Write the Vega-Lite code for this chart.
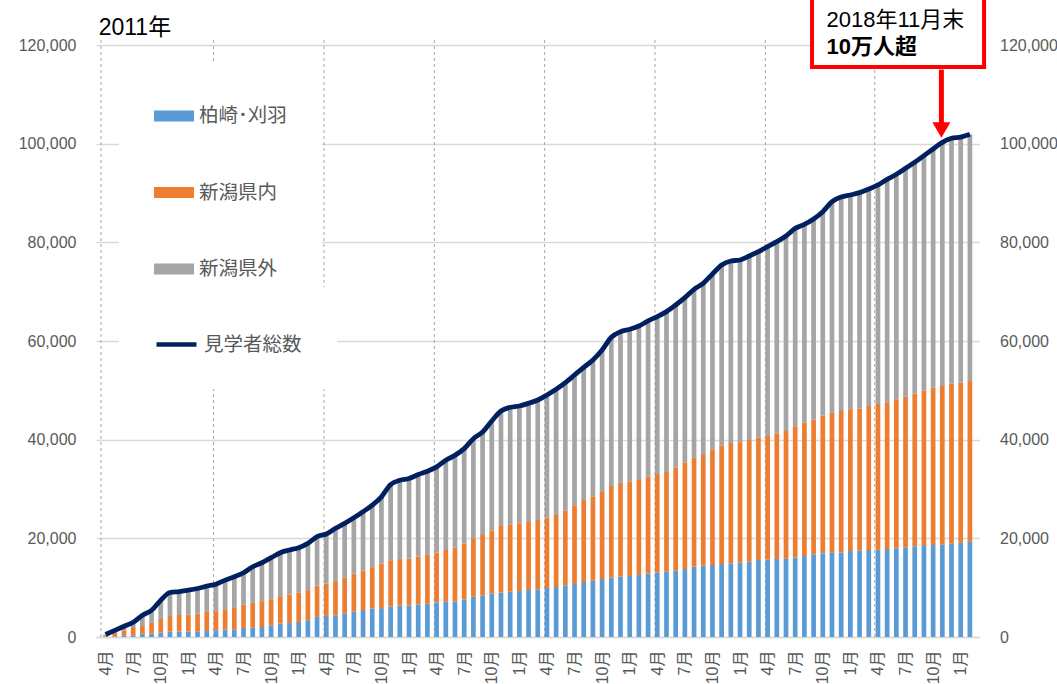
{
  "$schema": "https://vega.github.io/schema/vega-lite/v6.json",
  "width": 883.5,
  "height": 592,
  "autosize": {"type": "none"},
  "padding": {"left": 96, "top": 45, "right": 77.5, "bottom": 47},
  "background": "white",
  "config": {
    "view": {"stroke": null},
    "font": "Liberation Sans, 'Noto Sans CJK JP'",
    "axisX": {"labelFontSize": 16, "labelColor": "#595959", "labelOverlap": false, "labelFlush": false, "labelPadding": 13, "ticks": false, "domainColor": "#d9d9d9", "domainWidth": 1.5, "grid": false, "labelAngle": -90, "labelBound": false},
    "axisY": {"labelFontSize": 16, "labelColor": "#595959", "ticks": false, "domain": false, "labelPadding": 20}
  },
  "datasets": {
    "monthly": [
      {"m": "2011-04", "i": 0, "柏崎･刈羽": 100, "新潟県内": 200, "新潟県外": 200, "見学者総数": 500},
      {"m": "2011-05", "i": 1, "柏崎･刈羽": 150, "新潟県内": 660, "新潟県外": 540, "見学者総数": 1350},
      {"m": "2011-06", "i": 2, "柏崎･刈羽": 340, "新潟県内": 1020, "新潟県外": 810, "見学者総数": 2170},
      {"m": "2011-07", "i": 3, "柏崎･刈羽": 340, "新潟県内": 1490, "新潟県外": 1150, "見学者総数": 2980},
      {"m": "2011-08", "i": 4, "柏崎･刈羽": 680, "新潟県内": 1560, "新潟県外": 2170, "見学者総数": 4410},
      {"m": "2011-09", "i": 5, "柏崎･刈羽": 680, "新潟県内": 2170, "新潟県外": 2570, "見学者総数": 5420},
      {"m": "2011-10", "i": 6, "柏崎･刈羽": 880, "新潟県内": 2780, "新潟県外": 3800, "見学者総数": 7460},
      {"m": "2011-11", "i": 7, "柏崎･刈羽": 1090, "新潟県内": 3180, "新潟県外": 4750, "見学者総数": 9020},
      {"m": "2011-12", "i": 8, "柏崎･刈羽": 1090, "新潟県内": 3370, "新潟県外": 4760, "見学者総数": 9220},
      {"m": "2012-01", "i": 9, "柏崎･刈羽": 1090, "新潟県内": 3450, "新潟県外": 4950, "見学者総数": 9490},
      {"m": "2012-02", "i": 10, "柏崎･刈羽": 1150, "新潟県内": 3600, "新潟県外": 5080, "見学者総数": 9830},
      {"m": "2012-03", "i": 11, "柏崎･刈羽": 1220, "新潟県内": 3870, "新潟県外": 5220, "見学者総数": 10310},
      {"m": "2012-04", "i": 12, "柏崎･刈羽": 1360, "新潟県内": 3880, "新潟県外": 5470, "見学者総数": 10710},
      {"m": "2012-05", "i": 13, "柏崎･刈羽": 1490, "新潟県内": 4140, "新潟県外": 5900, "見学者総数": 11530},
      {"m": "2012-06", "i": 14, "柏崎･刈羽": 1560, "新潟県内": 4340, "新潟県外": 6300, "見学者総数": 12200},
      {"m": "2012-07", "i": 15, "柏崎･刈羽": 1830, "新潟県内": 4750, "新潟県外": 6440, "見学者総数": 13020},
      {"m": "2012-08", "i": 16, "柏崎･刈羽": 1970, "新潟県内": 4950, "新潟県外": 7320, "見学者総数": 14240},
      {"m": "2012-09", "i": 17, "柏崎･刈羽": 2030, "新潟県内": 5230, "新潟県外": 7790, "見学者総数": 15050},
      {"m": "2012-10", "i": 18, "柏崎･刈羽": 2370, "新潟県内": 5290, "新潟県外": 8410, "見学者総数": 16070},
      {"m": "2012-11", "i": 19, "柏崎･刈羽": 2710, "新潟県内": 5560, "新潟県外": 8820, "見学者総数": 17090},
      {"m": "2012-12", "i": 20, "柏崎･刈羽": 2850, "新潟県内": 5760, "新潟県外": 9020, "見学者総数": 17630},
      {"m": "2013-01", "i": 21, "柏崎･刈羽": 3050, "新潟県内": 5900, "新潟県外": 9150, "見学者総数": 18100},
      {"m": "2013-02", "i": 22, "柏崎･刈羽": 3390, "新潟県内": 6100, "新潟県外": 9490, "見学者総数": 18980},
      {"m": "2013-03", "i": 23, "柏崎･刈羽": 4070, "新潟県内": 6370, "新潟県外": 9900, "見学者総数": 20340},
      {"m": "2013-04", "i": 24, "柏崎･刈羽": 4270, "新潟県内": 6580, "新潟県外": 10030, "見学者総数": 20880},
      {"m": "2013-05", "i": 25, "柏崎･刈羽": 4410, "新潟県内": 6910, "新潟県外": 10720, "見学者総数": 22040},
      {"m": "2013-06", "i": 26, "柏崎･刈羽": 4710, "新潟県内": 7340, "新潟県外": 10980, "見学者総数": 23030},
      {"m": "2013-07", "i": 27, "柏崎･刈羽": 5120, "新潟県内": 7740, "新潟県外": 11320, "見学者総数": 24180},
      {"m": "2013-08", "i": 28, "柏崎･刈羽": 5460, "新潟県内": 8010, "新潟県外": 11920, "見学者総数": 25390},
      {"m": "2013-09", "i": 29, "柏崎･刈羽": 5790, "新潟県内": 8350, "新潟県外": 12590, "見学者総数": 26730},
      {"m": "2013-10", "i": 30, "柏崎･刈羽": 5860, "新潟県内": 9020, "新潟県外": 13540, "見学者総数": 28420},
      {"m": "2013-11", "i": 31, "柏崎･刈羽": 6200, "新潟県内": 9360, "新潟県外": 15350, "見学者総数": 30910},
      {"m": "2013-12", "i": 32, "柏崎･刈羽": 6330, "新潟県内": 9500, "新潟県外": 15950, "見学者総数": 31780},
      {"m": "2014-01", "i": 33, "柏崎･刈羽": 6400, "新潟県内": 9510, "新潟県外": 16210, "見学者総数": 32120},
      {"m": "2014-02", "i": 34, "柏崎･刈羽": 6600, "新潟県内": 9700, "新潟県外": 16630, "見学者総数": 32930},
      {"m": "2014-03", "i": 35, "柏崎･刈羽": 6730, "新潟県内": 9900, "新潟県外": 16970, "見学者総数": 33600},
      {"m": "2014-04", "i": 36, "柏崎･刈羽": 7000, "新潟県内": 10100, "新潟県外": 17380, "見学者総数": 34480},
      {"m": "2014-05", "i": 37, "柏崎･刈羽": 7140, "新潟県内": 10500, "新潟県外": 18190, "見学者総数": 35830},
      {"m": "2014-06", "i": 38, "柏崎･刈羽": 7210, "新潟県内": 10900, "新潟県外": 18730, "見学者総数": 36840},
      {"m": "2014-07", "i": 39, "柏崎･刈羽": 7610, "新潟県内": 11380, "新潟県外": 19190, "見学者総数": 38180},
      {"m": "2014-08", "i": 40, "柏崎･刈羽": 8220, "新潟県内": 11650, "新潟県外": 20330, "見学者総数": 40200},
      {"m": "2014-09", "i": 41, "柏崎･刈羽": 8420, "新潟県内": 12250, "新潟県外": 20880, "見学者総数": 41550},
      {"m": "2014-10", "i": 42, "柏崎･刈羽": 8800, "新潟県内": 12780, "新潟県外": 22200, "見学者総数": 43780},
      {"m": "2014-11", "i": 43, "柏崎･刈羽": 8990, "新潟県内": 13510, "新潟県外": 23310, "見学者総数": 45810},
      {"m": "2014-12", "i": 44, "柏崎･刈羽": 9190, "新潟県内": 13660, "新潟県外": 23710, "見学者総数": 46560},
      {"m": "2015-01", "i": 45, "柏崎･刈羽": 9330, "新潟県内": 13710, "新潟県外": 23790, "見学者総数": 46830},
      {"m": "2015-02", "i": 46, "柏崎･刈羽": 9530, "新潟県内": 13780, "新潟県外": 24060, "見学者総数": 47370},
      {"m": "2015-03", "i": 47, "柏崎･刈羽": 9660, "新潟県内": 14060, "新潟県外": 24320, "見学者総数": 48040},
      {"m": "2015-04", "i": 48, "柏崎･刈羽": 9930, "新潟県内": 14330, "新潟県外": 24800, "見学者総数": 49060},
      {"m": "2015-05", "i": 49, "柏崎･刈羽": 10140, "新潟県内": 14590, "新潟県外": 25470, "見学者総数": 50200},
      {"m": "2015-06", "i": 50, "柏崎･刈羽": 10410, "新潟県内": 15200, "新潟県外": 25950, "見学者総数": 51560},
      {"m": "2015-07", "i": 51, "柏崎･刈羽": 10740, "新潟県内": 15950, "新潟県外": 26420, "見学者総数": 53110},
      {"m": "2015-08", "i": 52, "柏崎･刈羽": 11150, "新潟県内": 16620, "新潟県外": 26890, "見学者総数": 54660},
      {"m": "2015-09", "i": 53, "柏崎･刈羽": 11420, "新潟県内": 17030, "新潟県外": 27700, "見学者総数": 56150},
      {"m": "2015-10", "i": 54, "柏崎･刈羽": 11760, "新潟県内": 17630, "新潟県外": 28790, "見学者総数": 58180},
      {"m": "2015-11", "i": 55, "柏崎･刈羽": 12030, "新潟県内": 18580, "新潟県外": 30140, "見学者総数": 60750},
      {"m": "2015-12", "i": 56, "柏崎･刈羽": 12230, "新潟県内": 19060, "新潟県外": 30600, "見学者総数": 61890},
      {"m": "2016-01", "i": 57, "柏崎･刈羽": 12370, "新潟県内": 19120, "新潟県外": 30880, "見学者総数": 62370},
      {"m": "2016-02", "i": 58, "柏崎･刈羽": 12570, "新潟県内": 19260, "新潟県外": 31210, "見学者総数": 63040},
      {"m": "2016-03", "i": 59, "柏崎･刈羽": 12840, "新潟県内": 19660, "新潟県外": 31600, "見学者総数": 64100},
      {"m": "2016-04", "i": 60, "柏崎･刈羽": 13040, "新潟県内": 20000, "新潟県外": 31900, "見学者総数": 64940},
      {"m": "2016-05", "i": 61, "柏崎･刈羽": 13240, "新潟県内": 20210, "新潟県外": 32500, "見学者総数": 65950},
      {"m": "2016-06", "i": 62, "柏崎･刈羽": 13450, "新潟県内": 20880, "新潟県外": 32970, "見学者総数": 67300},
      {"m": "2016-07", "i": 63, "柏崎･刈羽": 13780, "新潟県内": 21560, "新潟県外": 33450, "見学者総数": 68790},
      {"m": "2016-08", "i": 64, "柏崎･刈羽": 14260, "新潟県内": 22090, "新潟県外": 34130, "見学者総数": 70480},
      {"m": "2016-09", "i": 65, "柏崎･刈羽": 14460, "新潟県内": 22430, "新潟県外": 34800, "見学者総数": 71690},
      {"m": "2016-10", "i": 66, "柏崎･刈羽": 14600, "新潟県内": 23440, "新潟県外": 35540, "見学者総数": 73580},
      {"m": "2016-11", "i": 67, "柏崎･刈羽": 14800, "新潟県内": 24050, "新潟県外": 36560, "見学者総数": 75410},
      {"m": "2016-12", "i": 68, "柏崎･刈羽": 14930, "新潟県内": 24400, "新潟県外": 36890, "見学者総数": 76220},
      {"m": "2017-01", "i": 69, "柏崎･刈羽": 15070, "新潟県内": 24420, "新潟県外": 36930, "見学者総数": 76420},
      {"m": "2017-02", "i": 70, "柏崎･刈羽": 15270, "新潟県内": 24660, "新潟県外": 37300, "見学者総数": 77230},
      {"m": "2017-03", "i": 71, "柏崎･刈羽": 15610, "新潟県内": 24800, "新潟県外": 37700, "見学者総数": 78110},
      {"m": "2017-04", "i": 72, "柏崎･刈羽": 15680, "新潟県内": 25070, "新潟県外": 38380, "見学者総数": 79130},
      {"m": "2017-05", "i": 73, "柏崎･刈羽": 15810, "新潟県内": 25480, "新潟県外": 38850, "見学者総数": 80140},
      {"m": "2017-06", "i": 74, "柏崎･刈羽": 15880, "新潟県内": 25880, "新潟県外": 39530, "見学者総数": 81290},
      {"m": "2017-07", "i": 75, "柏崎･刈羽": 16150, "新潟県内": 26550, "新潟県外": 40140, "見学者総数": 82840},
      {"m": "2017-08", "i": 76, "柏崎･刈羽": 16420, "新潟県内": 27030, "新潟県外": 40200, "見学者総数": 83650},
      {"m": "2017-09", "i": 77, "柏崎･刈羽": 16760, "新潟県内": 27300, "新潟県外": 40670, "見学者総数": 84730},
      {"m": "2017-10", "i": 78, "柏崎･刈羽": 16960, "新潟県内": 27910, "新潟県外": 41350, "見学者総数": 86220},
      {"m": "2017-11", "i": 79, "柏崎･刈羽": 17100, "新潟県内": 28380, "新潟県外": 42770, "見学者総数": 88250},
      {"m": "2017-12", "i": 80, "柏崎･刈羽": 17160, "新潟県内": 28650, "新潟県外": 43380, "見学者総数": 89190},
      {"m": "2018-01", "i": 81, "柏崎･刈羽": 17430, "新潟県内": 28720, "新潟県外": 43450, "見学者総数": 89600},
      {"m": "2018-02", "i": 82, "柏崎･刈羽": 17570, "新潟県内": 28720, "新潟県外": 43780, "見学者総数": 90070},
      {"m": "2018-03", "i": 83, "柏崎･刈羽": 17640, "新潟県内": 29190, "新潟県外": 43980, "見学者総数": 90810},
      {"m": "2018-04", "i": 84, "柏崎･刈羽": 17700, "新潟県内": 29530, "新潟県外": 44400, "見学者総数": 91630},
      {"m": "2018-05", "i": 85, "柏崎･刈羽": 17840, "新潟県内": 29730, "新潟県外": 45200, "見学者総数": 92770},
      {"m": "2018-06", "i": 86, "柏崎･刈羽": 17970, "新潟県内": 30210, "新潟県外": 45610, "見学者総数": 93790},
      {"m": "2018-07", "i": 87, "柏崎･刈羽": 18110, "新潟県内": 30610, "新潟県外": 46280, "見学者総数": 95000},
      {"m": "2018-08", "i": 88, "柏崎･刈羽": 18380, "新潟県内": 30950, "新潟県外": 46890, "見学者総数": 96220},
      {"m": "2018-09", "i": 89, "柏崎･刈羽": 18450, "新潟県内": 31480, "新潟県外": 47640, "見学者総数": 97570},
      {"m": "2018-10", "i": 90, "柏崎･刈羽": 18650, "新潟県内": 31890, "新潟県外": 48380, "見学者総数": 98920},
      {"m": "2018-11", "i": 91, "柏崎･刈羽": 18790, "新潟県内": 32090, "新潟県外": 49390, "見学者総数": 100270},
      {"m": "2018-12", "i": 92, "柏崎･刈羽": 18920, "新潟県内": 32430, "新潟県外": 49740, "見学者総数": 101090},
      {"m": "2019-01", "i": 93, "柏崎･刈羽": 19120, "新潟県内": 32440, "新潟県外": 49760, "見学者総数": 101320},
      {"m": "2019-02", "i": 94, "柏崎･刈羽": 19330, "新潟県内": 32560, "新潟県外": 50010, "見学者総数": 101900}
    ],
    "fiscalYears": [
      {"fy": 2011, "i": -0.5},
      {"fy": 2012, "i": 11.75},
      {"fy": 2013, "i": 23.75},
      {"fy": 2014, "i": 35.75},
      {"fy": 2015, "i": 47.75},
      {"fy": 2016, "i": 59.75},
      {"fy": 2017, "i": 71.75},
      {"fy": 2018, "i": 83.65}
    ],
    "seriesOrder": [
      {"s": "柏崎･刈羽", "ord": 1},
      {"s": "新潟県内", "ord": 2},
      {"s": "新潟県外", "ord": 3}
    ]
  },
  "layer": [
    {
      "data": {"name": "fiscalYears"},
      "mark": {"type": "rule", "strokeDash": [3, 3], "color": "#a6a6a6", "strokeWidth": 1},
      "encoding": {
        "x": {"field": "i", "type": "quantitative", "axis": null, "scale": {"domain": [-0.5, 94.5], "nice": false, "zero": false}},
        "y": {"datum": 0, "type": "quantitative", "axis": null, "scale": {"domain": [0, 120000], "nice": false}},
        "y2": {"datum": 121000}
      }
    },
    {
      "data": {"name": "monthly"},
      "transform": [
        {"fold": ["柏崎･刈羽", "新潟県内", "新潟県外"], "as": ["s", "v"]},
        {"lookup": "s", "from": {"data": {"name": "seriesOrder"}, "key": "s", "fields": ["ord"]}}
      ],
      "mark": {"type": "bar", "width": 4.7},
      "encoding": {
        "x": {
          "field": "i", "type": "quantitative",
          "scale": {"domain": [-0.5, 94.5], "nice": false, "zero": false},
          "axis": {
            "values": [0, 3, 6, 9, 12, 15, 18, 21, 24, 27, 30, 33, 36, 39, 42, 45, 48, 51, 54, 57, 60, 63, 66, 69, 72, 75, 78, 81, 84, 87, 90, 93],
            "labelExpr": "((datum.value + 3) % 12 + 1) + '月'",
            "labelAngle": -90, "labelFontSize": 16, "labelColor": "#595959",
            "ticks": false, "labelPadding": 13, "domainColor": "#d9d9d9", "domainWidth": 1.5,
            "grid": false, "title": null, "labelOverlap": false, "labelFlush": false
          }
        },
        "y": {
          "field": "v", "type": "quantitative", "stack": "zero",
          "scale": {"domain": [0, 120000], "nice": false},
          "axis": {
            "orient": "left", "values": [0, 20000, 40000, 60000, 80000, 100000, 120000], "format": ",.0f",
            "labelFontSize": 16, "labelColor": "#595959", "ticks": false, "domain": false,
            "labelPadding": 20, "grid": true, "gridColor": "#d9d9d9", "gridWidth": 1.5, "title": null
          }
        },
        "order": {"field": "ord", "type": "quantitative", "sort": "ascending"},
        "color": {
          "field": "s", "type": "nominal",
          "sort": ["柏崎･刈羽", "新潟県内", "新潟県外"],
          "scale": {"domain": ["柏崎･刈羽", "新潟県内", "新潟県外"], "range": ["#5B9BD5", "#ED7D31", "#A5A5A5"]},
          "legend": {
            "title": null, "orient": "none", "legendX": 23, "legendY": 16,
            "symbolType": "M-1,-0.275H1V0.275H-1Z", "symbolSize": 1600, "symbolStrokeWidth": 0, "symbolOpacity": 1,
            "labelFontSize": 19.5, "labelColor": "#595959", "labelOffset": 5, "rowPadding": 46.5,
            "padding": 35, "fillColor": "white", "labelLimit": 300
          }
        }
      }
    },
    {
      "data": {"name": "monthly"},
      "mark": {"type": "line", "strokeWidth": 4.8, "interpolate": "monotone"},
      "encoding": {
        "x": {"field": "i", "type": "quantitative", "axis": null, "scale": {"domain": [-0.5, 94.5], "nice": false, "zero": false}},
        "y": {
          "field": "見学者総数", "type": "quantitative",
          "scale": {"domain": [0, 120000], "nice": false},
          "axis": {
            "orient": "right", "values": [0, 20000, 40000, 60000, 80000, 100000, 120000], "format": ",.0f",
            "labelFontSize": 16, "labelColor": "#595959", "ticks": false, "domain": false,
            "labelPadding": 20, "grid": false, "title": null
          }
        },
        "stroke": {
          "datum": "見学者総数", "type": "nominal",
          "scale": {"domain": ["見学者総数"], "range": ["#002060"]},
          "legend": {
            "title": null, "orient": "none", "legendX": 23, "legendY": 242,
            "symbolSize": 1600, "symbolStrokeWidth": 4.5,
            "labelFontSize": 19.5, "labelColor": "#595959", "labelOffset": 5,
            "padding": 35, "fillColor": "white", "labelLimit": 300
          }
        }
      }
    },
    {
      "data": {"values": [{}]},
      "mark": {"type": "text", "text": "2011年", "align": "left", "baseline": "middle", "fontSize": 23, "color": "#000000"},
      "encoding": {
        "x": {"datum": -0.75, "type": "quantitative", "axis": null, "scale": {"domain": [-0.5, 94.5], "nice": false, "zero": false}},
        "y": {"datum": 123450, "type": "quantitative", "axis": null, "scale": {"domain": [0, 120000], "nice": false}}
      }
    },
    {
      "data": {"values": [{}]},
      "mark": {"type": "rect", "fill": "white", "stroke": "#ff0000", "strokeWidth": 4},
      "encoding": {
        "x": {"datum": 76.83, "type": "quantitative", "axis": null, "scale": {"domain": [-0.5, 94.5], "nice": false, "zero": false}},
        "x2": {"datum": 95.54},
        "y": {"datum": 115540, "type": "quantitative", "axis": null, "scale": {"domain": [0, 120000], "nice": false}},
        "y2": {"datum": 131000}
      }
    },
    {
      "data": {"values": [{}]},
      "mark": {"type": "text", "text": "2018年11月末", "align": "left", "baseline": "middle", "fontSize": 22, "color": "#000000"},
      "encoding": {
        "x": {"datum": 78.4, "type": "quantitative", "axis": null, "scale": {"domain": [-0.5, 94.5], "nice": false, "zero": false}},
        "y": {"datum": 125070, "type": "quantitative", "axis": null, "scale": {"domain": [0, 120000], "nice": false}}
      }
    },
    {
      "data": {"values": [{}]},
      "mark": {"type": "text", "text": "10万人超", "align": "left", "baseline": "middle", "fontSize": 22, "fontWeight": "bold", "color": "#000000"},
      "encoding": {
        "x": {"datum": 78.4, "type": "quantitative", "axis": null, "scale": {"domain": [-0.5, 94.5], "nice": false, "zero": false}},
        "y": {"datum": 119600, "type": "quantitative", "axis": null, "scale": {"domain": [0, 120000], "nice": false}}
      }
    },
    {
      "data": {"values": [{}]},
      "mark": {"type": "rule", "color": "#ff0000", "strokeWidth": 5},
      "encoding": {
        "x": {"datum": 90.9, "type": "quantitative", "axis": null, "scale": {"domain": [-0.5, 94.5], "nice": false, "zero": false}},
        "y": {"datum": 115000, "type": "quantitative", "axis": null, "scale": {"domain": [0, 120000], "nice": false}},
        "y2": {"datum": 103500}
      }
    },
    {
      "data": {"values": [{}]},
      "mark": {"type": "point", "shape": "triangle-down", "filled": true, "size": 324, "color": "#ff0000", "opacity": 1},
      "encoding": {
        "x": {"datum": 90.9, "type": "quantitative", "axis": null, "scale": {"domain": [-0.5, 94.5], "nice": false, "zero": false}},
        "y": {"datum": 102770, "type": "quantitative", "axis": null, "scale": {"domain": [0, 120000], "nice": false}}
      }
    }
  ],
  "resolve": {"axis": {"x": "independent", "y": "independent"}}
}
